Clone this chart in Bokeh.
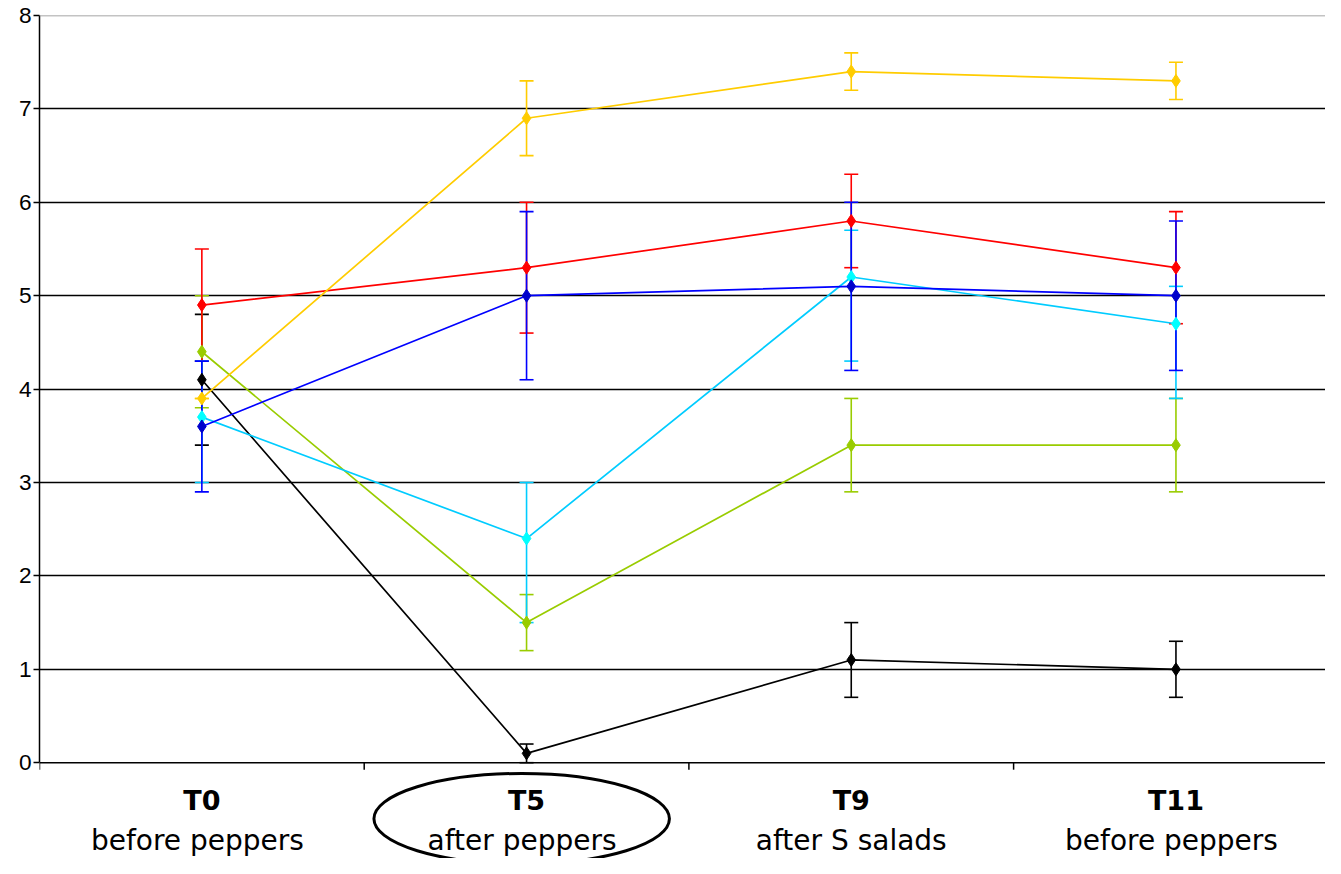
from bokeh.plotting import figure
from bokeh.models import (Range1d, FixedTicker, Span, Whisker, TeeHead, ColumnDataSource)
from bokeh.core.properties import value
from bokeh.embed import file_html
from bokeh.resources import INLINE

# ---- data ----
categories = ["T0", "T5", "T9", "T11"]
subtitles = ["before  peppers", "after  peppers", "after S salads", "before  peppers"]
highlight = "T5"

series_names = ["black", "green", "red", "yellow", "cyan", "blue"]
black_vals = [4.1, 0.1, 1.1, 1.0]
black_lo = [3.4, 0.0, 0.7, 0.7]
black_hi = [4.8, 0.2, 1.5, 1.3]

green_vals = [4.4, 1.5, 3.4, 3.4]
green_lo = [3.8, 1.2, 2.9, 2.9]
green_hi = [5.0, 1.8, 3.9, 3.9]

red_vals = [4.9, 5.3, 5.8, 5.3]
red_lo = [4.3, 4.6, 5.3, 4.7]
red_hi = [5.5, 6.0, 6.3, 5.9]

yellow_vals = [3.9, 6.9, 7.4, 7.3]
yellow_lo = [3.9, 6.5, 7.2, 7.1]
yellow_hi = [3.9, 7.3, 7.6, 7.5]

cyan_vals = [3.7, 2.4, 5.2, 4.7]
cyan_lo = [3.0, 1.5, 4.3, 3.9]
cyan_hi = [4.3, 3.0, 5.7, 5.1]

blue_vals = [3.6, 5.0, 5.1, 5.0]
blue_lo = [2.9, 4.1, 4.2, 4.2]
blue_hi = [4.3, 5.9, 6.0, 5.8]

y_ticks = [0, 1, 2, 3, 4, 5, 6, 7, 8]

styles = {
    "black": dict(line="#000000", marker="#000000", err="#000000"),
    "green": dict(line="#99CC00", marker="#99CC00", err="#99CC00"),
    "red": dict(line="#FF0000", marker="#FF0000", err="#FF0000"),
    "yellow": dict(line="#FFCC00", marker="#FFCC00", err="#FFCC00"),
    "cyan": dict(line="#00CCFF", marker="#00FFFF", err="#00CCFF"),
    "blue": dict(line="#0000FF", marker="#0000CC", err="#0000FF"),
}
data = {
    "black": (black_vals, black_lo, black_hi),
    "green": (green_vals, green_lo, green_hi),
    "red": (red_vals, red_lo, red_hi),
    "yellow": (yellow_vals, yellow_lo, yellow_hi),
    "cyan": (cyan_vals, cyan_lo, cyan_hi),
    "blue": (blue_vals, blue_lo, blue_hi),
}

xs = [i + 0.5 for i in range(len(categories))]
bounds = list(range(len(categories) + 1))

W, H = 1325, 858
LEFT, TOP = 39, 15
PX_PER_UNIT = 93.4           # vertical pixels per y unit
Y_MIN = -(H - TOP - 8 * PX_PER_UNIT) / PX_PER_UNIT
X_MAX = (W - LEFT) / 324.7

p = figure(width=W, height=H, output_backend="svg", toolbar_location=None,
           x_range=Range1d(0, X_MAX), y_range=Range1d(Y_MIN, 8),
           min_border_left=LEFT, min_border_right=0, min_border_top=TOP,
           min_border_bottom=0)
p.outline_line_color = None
p.background_fill_color = "white"
p.border_fill_color = "white"
p.xaxis.visible = False

# grid
p.xgrid.grid_line_color = None
p.ygrid.ticker = FixedTicker(ticks=y_ticks[1:-1])
p.ygrid.grid_line_color = "black"
p.ygrid.grid_line_width = 1.5
p.add_layout(Span(location=y_ticks[-1], dimension="width", line_color="#888888", line_width=1.5))

# y axis
yax = p.yaxis[0]
yax.ticker = FixedTicker(ticks=y_ticks)
yax.bounds = (y_ticks[0], y_ticks[-1])
yax.axis_line_color = "black"
yax.axis_line_width = 1.5
yax.major_tick_line_width = 1.5
yax.major_tick_in = 0
yax.major_tick_out = 6
yax.minor_tick_line_color = None
yax.major_label_text_font = "Liberation Sans"
yax.major_label_text_font_size = "17pt"
yax.major_label_text_color = "black"
yax.major_label_standoff = 2

# x axis line at 0 with boundary ticks
p.add_layout(Span(location=y_ticks[0], dimension="width", line_color="black", line_width=1.5))
tick_len = 7 / PX_PER_UNIT
p.segment(x0=bounds, y0=[0] * len(bounds), x1=bounds, y1=[-tick_len] * len(bounds),
          line_color="black", line_width=1.5)

for name in series_names:
    vals, lo, hi = data[name]
    st = styles[name]
    src = ColumnDataSource(dict(x=xs, y=vals, lo=lo, hi=hi))
    w = Whisker(source=src, base="x", upper="hi", lower="lo", dimension="height",
                line_color=st["err"], line_width=1.6,
                upper_head=TeeHead(size=14, line_color=st["err"], line_width=1.6),
                lower_head=TeeHead(size=14, line_color=st["err"], line_width=1.6))
    p.add_layout(w)
    p.line("x", "y", source=src, line_color=st["line"], line_width=1.7)
    p.scatter("x", "y", source=src, marker="diamond", size=13,
              fill_color=st["marker"], line_color=st["marker"])

# category labels
p.text(x=xs, y=[-0.41] * len(xs), text=categories, text_align="center",
       text_baseline="middle", text_font=value("DejaVu Sans"), text_font_style="bold",
       text_font_size=value("27px"), text_color="black")
p.text(x=xs, y=[-0.83] * len(xs), text=subtitles, text_align="center",
       text_baseline="middle", text_font=value("DejaVu Sans"),
       text_font_size=value("28px"), text_color="black")

# ellipse around highlighted category
hi_x = xs[categories.index(highlight)] - 0.015
p.ellipse(x=[hi_x], y=[-0.60], width=[0.91], height=[0.97],
          fill_color=None, line_color="black", line_width=3)

open("out.html", "w").write(file_html(p, INLINE))
